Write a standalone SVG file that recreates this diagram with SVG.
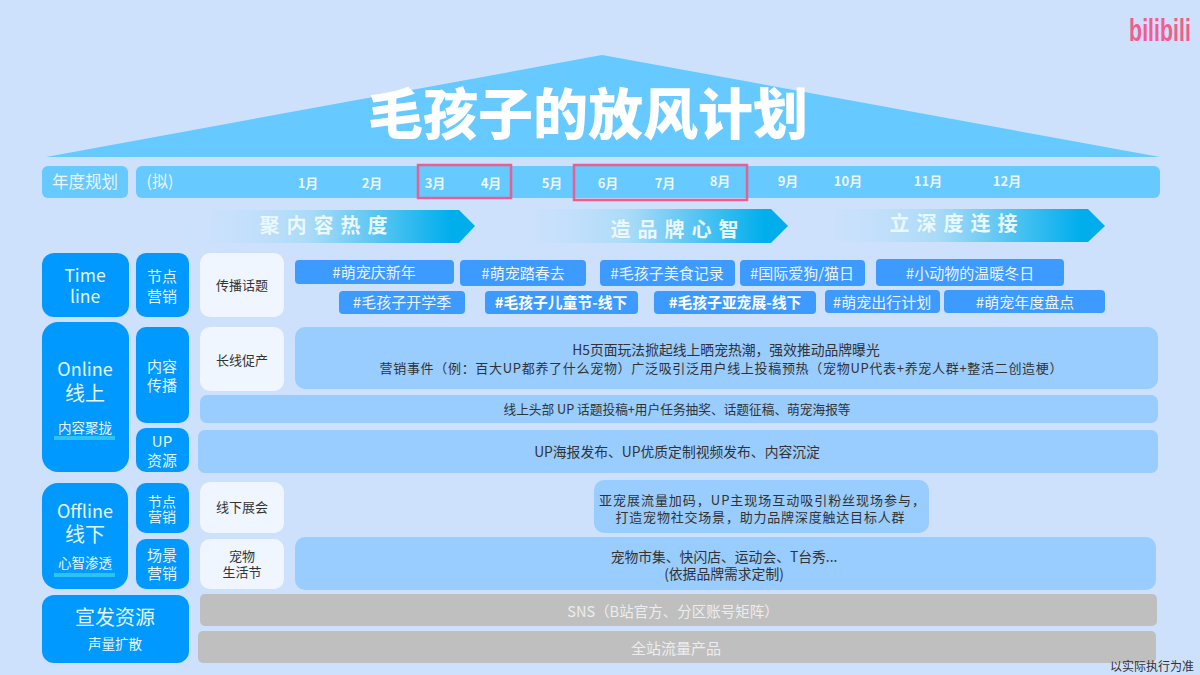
<svg xmlns="http://www.w3.org/2000/svg" width="1200" height="675" viewBox="0 0 1200 675">
<style>
text{font-family:"Noto Sans CJK SC","Noto Sans",sans-serif;text-anchor:middle;dominant-baseline:central}
.w{fill:#fff}.pale{fill:#E6F6FF}.d{fill:#333}
.bar{fill:#66C9FF}.blue{fill:#0099FF}.tag{fill:#3D9BFF}.soft{fill:#99CCFF}.wh{fill:#F0F6FF}.gray{fill:#BFBFBF}
.m{font-size:13px;font-weight:700;fill:#EAF8FF}
.t{font-size:15px;fill:#EAF4FF}.tb{font-size:14.8px;fill:#fff;font-weight:700}
.c{font-size:13px;fill:#333}.b{font-size:13.8px;fill:#333}
.h{font-size:15px;fill:#E6F6FF}
.a{font-size:20px;font-weight:700;fill:#EAF8FF;letter-spacing:7px}
.pk{fill:none;stroke:#E8608F;stroke-width:2.5}
</style>
<defs>
<linearGradient id="g" x1="0" x2="1" y1="0" y2="0"><stop offset="0" stop-color="#CDE1FC" stop-opacity="0"/><stop offset=".45" stop-color="#A9DBF8"/><stop offset=".92" stop-color="#00AEEC"/><stop offset="1" stop-color="#00AEEC"/></linearGradient>
</defs>
<rect width="1200" height="675" fill="#CDE1FC"/>
<g id="banner">
<polygon points="46,157 602,55 1160,157" fill="#66C9FF"/>
<text x="588" y="110" font-size="55" font-weight="900" class="w">毛孩子的放风计划</text>
</g>
<g id="logo"><text transform="translate(1160 41) scale(.69 1)" x="0" y="0" font-size="31" font-weight="700" fill="#F25D8E" style="font-family:'Liberation Sans',sans-serif;dominant-baseline:alphabetic">bilibili</text></g>
<g id="year">
<rect x="42" y="166" width="86" height="32" rx="6" class="bar"/>
<text x="85" y="181" font-size="16.5" class="pale">年度规划</text>
<rect x="136" y="166" width="1024" height="32" rx="6" class="bar"/>
<text x="160" y="180" font-size="16" class="pale">(拟)</text>
<text x="308" y="182" class="m">1月</text><text x="372" y="182" class="m">2月</text><text x="435" y="182" class="m">3月</text><text x="491" y="182" class="m">4月</text><text x="552" y="182" class="m">5月</text><text x="608" y="182" class="m">6月</text><text x="665" y="182" class="m">7月</text><text x="720" y="180" class="m">8月</text><text x="788" y="180" class="m">9月</text><text x="848" y="180" class="m">10月</text><text x="928" y="180" class="m">11月</text><text x="1007" y="180" class="m">12月</text>
<rect x="418" y="165" width="93" height="33" class="pk"/>
<rect x="574" y="165" width="173" height="35" class="pk"/>
</g>
<g id="phase1"><polygon points="175,210 459,210 475,226 459,243 175,243" fill="url(#g)"/><text x="327" y="224" class="a">聚内容热度</text></g>
<g id="phase2"><polygon points="500,209 771,209 788,226 771,243 500,243" fill="url(#g)"/><text x="678" y="228" class="a">造品牌心智</text></g>
<g id="phase3"><polygon points="800,209 1088,209 1105,226 1088,242 800,242" fill="url(#g)"/><text x="957" y="222" class="a">立深度连接</text></g>

<g id="timeline"><rect x="42" y="253" width="87" height="64" rx="12" class="blue"/><text x="85" y="274" font-size="17.5" class="pale">Time</text><text x="85" y="295" font-size="17.5" class="pale">line</text></g>
<g id="node-marketing"><rect x="136" y="253" width="53" height="64" rx="10" class="blue"/><text x="162" y="275" class="h">节点</text><text x="162" y="295" class="h">营销</text></g>
<g id="topic"><rect x="200" y="253" width="84" height="64" rx="10" class="wh"/><text x="242" y="284" class="c">传播话题</text></g>
<g id="tags">
<rect x="295" y="260" width="159" height="24" rx="4" class="tag"/><text x="374" y="271" class="t">#萌宠庆新年</text>
<rect x="460" y="260" width="126" height="26" rx="4" class="tag"/><text x="523" y="272" class="t">#萌宠踏春去</text>
<rect x="600" y="260" width="135" height="26" rx="4" class="tag"/><text x="667" y="272" class="t">#毛孩子美食记录</text>
<rect x="740" y="260" width="125" height="26" rx="4" class="tag"/><text x="802" y="272" class="t">#国际爱狗/猫日</text>
<rect x="876" y="259" width="188" height="27" rx="4" class="tag"/><text x="970" y="272" class="t">#小动物的温暖冬日</text>
<rect x="339" y="291" width="126" height="23" rx="4" class="tag"/><text x="402" y="301" class="t">#毛孩子开学季</text>
<rect x="485" y="291" width="153" height="23" rx="4" class="tag"/><text x="561" y="301" class="tb">#毛孩子儿童节-线下</text>
<rect x="654" y="291" width="162" height="23" rx="4" class="tag"/><text x="735" y="301" class="tb">#毛孩子亚宠展-线下</text>
<rect x="825" y="290" width="115" height="23" rx="4" class="tag"/><text x="882" y="301" class="t">#萌宠出行计划</text>
<rect x="944" y="290" width="161" height="23" rx="4" class="tag"/><text x="1025" y="301" class="t">#萌宠年度盘点</text>
</g>

<g id="online"><rect x="42" y="322" width="87" height="150" rx="16" class="blue"/><text x="85" y="368" font-size="18" class="pale">Online</text><text x="85" y="392" font-size="20" class="pale">线上</text><text x="85" y="427" font-size="13.5" class="pale">内容聚拢</text><rect x="54" y="436" width="61" height="4" fill="#2BC4F5"/></g>
<g id="content-spread"><rect x="136" y="327" width="53" height="96" rx="10" class="blue"/><text x="162" y="365" class="h">内容</text><text x="162" y="384" class="h">传播</text></g>
<g id="up-res"><rect x="136" y="428" width="53" height="44" rx="10" class="blue"/><text x="162" y="440" class="h">UP</text><text x="162" y="459" class="h">资源</text></g>
<g id="long"><rect x="200" y="327" width="84" height="64" rx="10" class="wh"/><text x="242" y="359" class="c">长线促产</text></g>
<g id="long-body"><rect x="295" y="327" width="863" height="62" rx="10" class="soft"/><text x="726" y="349" class="b">H5页面玩法掀起线上晒宠热潮，强效推动品牌曝光</text><text x="721" y="367" class="c" textLength="683">营销事件（例：百大UP都养了什么宠物）广泛吸引泛用户线上投稿预热（宠物UP代表+养宠人群+整活二创造梗）</text></g>
<g id="up-task"><rect x="200" y="395" width="958" height="28" rx="7" class="soft"/><text x="677" y="408" font-size="12.7" class="d">线上头部 UP 话题投稿+用户任务抽奖、话题征稿、萌宠海报等</text></g>
<g id="up-poster"><rect x="198" y="430" width="960" height="43" rx="7" class="soft"/><text x="677" y="451" class="b">UP海报发布、UP优质定制视频发布、内容沉淀</text></g>

<g id="offline"><rect x="42" y="483" width="86" height="106" rx="16" class="blue"/><text x="85" y="510" font-size="18" class="pale">Offline</text><text x="85" y="533" font-size="20" class="pale">线下</text><text x="85" y="562" font-size="13.5" class="pale">心智渗透</text><rect x="54" y="573" width="61" height="4" fill="#2BC4F5"/></g>
<g id="node-offline"><rect x="136" y="483" width="53" height="50" rx="10" class="blue"/><text x="162" y="501" font-size="14" class="pale">节点</text><text x="162" y="516" font-size="14" class="pale">营销</text></g>
<g id="scene"><rect x="136" y="539" width="53" height="50" rx="10" class="blue"/><text x="162" y="554" class="h">场景</text><text x="162" y="572" class="h">营销</text></g>
<g id="expo"><rect x="200" y="482" width="84" height="51" rx="10" class="wh"/><text x="242" y="506" class="c">线下展会</text></g>
<g id="pet-fest"><rect x="200" y="539" width="84" height="50" rx="10" class="wh"/><text x="242" y="555" class="c">宠物</text><text x="242" y="571" class="c">生活节</text></g>
<g id="expo-body"><rect x="594" y="480" width="335" height="53" rx="10" class="soft"/><text x="762" y="499" class="c" textLength="326">亚宠展流量加码，UP主现场互动吸引粉丝现场参与，</text><text x="760" y="516" class="c" textLength="289">打造宠物社交场景，助力品牌深度触达目标人群</text></g>
<g id="fest-body"><rect x="295" y="537" width="861" height="53" rx="10" class="soft"/><text x="724" y="556" class="b">宠物市集、快闪店、运动会、T台秀...</text><text x="724" y="573" class="b">(依据品牌需求定制)</text></g>

<g id="media"><rect x="42" y="595" width="147" height="68" rx="12" class="blue"/><text x="115" y="616" font-size="20" class="pale">宣发资源</text><text x="115" y="643" font-size="13.5" class="pale">声量扩散</text></g>
<g id="sns"><rect x="200" y="594" width="957" height="32" rx="5" class="gray"/><text x="673" y="610" font-size="14.5" fill="#EDEDED">SNS（B站官方、分区账号矩阵）</text></g>
<g id="traffic"><rect x="198" y="631" width="958" height="32" rx="5" class="gray"/><text x="676" y="647" font-size="15" fill="#EDEDED">全站流量产品</text></g>
<text x="1152" y="665" font-size="12" class="d">以实际执行为准</text>
<g id="connectors"/>
</svg>
